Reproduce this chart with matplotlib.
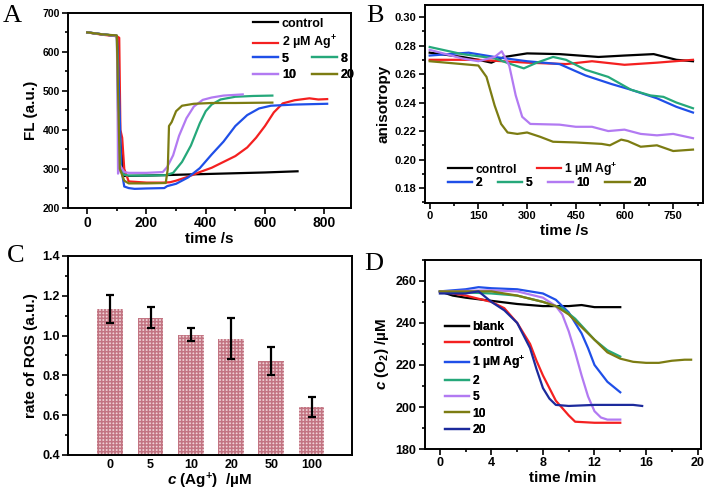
import numpy as np
import matplotlib
matplotlib.use("Agg")
import matplotlib.pyplot as plt
from matplotlib.lines import Line2D
from matplotlib.ticker import MultipleLocator

plt.rcParams['font.family'] = ['Liberation Sans', 'DejaVu Sans']
plt.rcParams['font.weight'] = 'bold'
plt.rcParams['axes.labelweight'] = 'bold'
plt.rcParams['mathtext.fontset'] = 'custom'
plt.rcParams['mathtext.rm'] = 'Liberation Sans:bold'
plt.rcParams['mathtext.bf'] = 'Liberation Sans:bold'
plt.rcParams['mathtext.it'] = 'Liberation Sans:italic:bold'
plt.rcParams['mathtext.bfit'] = 'Liberation Sans:italic:bold'
plt.rcParams['hatch.linewidth'] = 1.1

BLACK = '#000000'
RED = '#f42020'
BLUE = '#1f4fe8'
GREEN = '#25a87a'
PURPLE = '#b27af2'
OLIVE = '#7c7c12'
NAVY = '#1c2a9c'

# ---- panel A: FL vs time ----
a_labels = ['control', '2 µM Ag$^{+}$', '5', '8', '10', '20']
a_t = [
    [0, 50, 100, 104, 110, 125, 200, 300, 400, 500, 600, 710],
    [0, 50, 100, 108, 112, 118, 125, 140, 200, 260, 280, 300, 340, 380, 420, 460, 500,
     540, 570, 600, 630, 660, 700, 750, 780, 810],
    [0, 50, 100, 105, 115, 125, 140, 160, 200, 260, 270, 300, 340, 380, 420, 460, 500,
     540, 580, 620, 700, 810],
    [0, 50, 100, 104, 112, 125, 140, 200, 265, 290, 320, 350, 380, 400, 420, 450, 500, 560, 625],
    [0, 50, 100, 102, 104, 110, 125, 140, 200, 255, 270, 290, 310, 335, 360, 390, 420, 460, 525],
    [0, 50, 100, 104, 110, 125, 140, 200, 265, 272, 276, 285, 300, 320, 360, 420, 500, 625],
]
a_y = [
    [650, 645, 641, 600, 380, 282, 283, 285, 287, 289, 291, 294],
    [650, 644, 640, 636, 400, 380, 300, 268, 265, 265, 266, 270, 280, 292, 303, 318, 333,
     355, 380, 410, 445, 468, 476, 481, 478, 479],
    [650, 645, 641, 560, 300, 255, 251, 249, 250, 251, 256, 262, 278, 302, 337, 370, 410,
     438, 455, 462, 465, 467],
    [650, 645, 641, 450, 300, 285, 283, 283, 284, 290, 318, 360, 417, 448, 465, 478, 485, 487, 488],
    [650, 645, 641, 500, 288, 310, 292, 290, 290, 292, 305, 335, 385, 430, 460, 477, 483, 488, 491],
    [650, 645, 642, 500, 300, 270, 263, 263, 264, 300, 410, 420, 448, 462, 467, 469, 469, 470],
]
a_colors = [BLACK, RED, BLUE, GREEN, PURPLE, OLIVE]

# ---- panel B: anisotropy vs time ----
b_labels = ['control', '1 µM Ag$^{+}$', '2', '5', '10', '20']
b_t = [
    [0, 100, 150, 190, 230, 300, 400, 520, 600, 690, 760, 811],
    [0, 150, 300, 420, 500, 600, 700, 811],
    [0, 120, 200, 300, 400, 480, 560, 620, 700, 760, 811],
    [0, 100, 200, 250, 290, 330, 380, 420, 480, 550, 620, 680, 720, 760, 811],
    [0, 100, 150, 200, 222, 245, 265, 285, 310, 400, 450, 500, 550, 600, 650, 700, 750, 811],
    [0, 100, 150, 175, 200, 220, 240, 270, 300, 340, 380, 450, 530, 555, 590, 610, 650,
     700, 750, 811],
]
b_y = [
    [0.275, 0.272, 0.270, 0.268, 0.272, 0.2745, 0.274, 0.272, 0.273, 0.274, 0.270, 0.269],
    [0.270, 0.270, 0.268, 0.267, 0.269, 0.2665, 0.268, 0.270],
    [0.273, 0.275, 0.272, 0.269, 0.267, 0.259, 0.253, 0.249, 0.243, 0.237, 0.233],
    [0.279, 0.274, 0.271, 0.267, 0.264, 0.268, 0.272, 0.270, 0.263, 0.258, 0.249, 0.245,
     0.244, 0.240, 0.236],
    [0.277, 0.271, 0.269, 0.272, 0.276, 0.266, 0.245, 0.230, 0.225, 0.2245, 0.223, 0.223,
     0.220, 0.221, 0.218, 0.217, 0.218, 0.215],
    [0.269, 0.267, 0.266, 0.258, 0.238, 0.225, 0.219, 0.218, 0.219, 0.216, 0.2125, 0.212,
     0.211, 0.210, 0.214, 0.213, 0.209, 0.210, 0.206, 0.207],
]
b_colors = [BLACK, RED, BLUE, GREEN, PURPLE, OLIVE]

# ---- panel C: rate of ROS ----
c_conc = ['0', '5', '10', '20', '50', '100']
c_rate = [1.135, 1.09, 1.005, 0.985, 0.87, 0.64]
c_err = [0.07, 0.052, 0.035, 0.105, 0.07, 0.05]

# ---- panel D: c(O2) vs time ----
d_labels = ['blank', 'control', '1 µM Ag$^{+}$', '2', '5', '10', '20']
d_t = [
    [0, 1, 2, 4, 6, 8, 10, 11, 12, 14],
    [0, 2, 4, 5, 6, 7, 7.5, 8, 9, 10, 10.5, 12, 14],
    [0, 2, 3, 4, 6, 8, 9, 10, 11, 11.5, 12, 13, 14],
    [0, 4, 6, 8, 9.5, 10.5, 12, 13, 14],
    [0, 4, 6, 8, 9, 9.5, 10, 10.5, 11, 11.5, 12, 12.5, 13, 14],
    [0, 4, 6, 8, 9, 10, 11, 12, 13, 14, 15, 16, 17, 18, 19, 19.5],
    [0, 2, 3, 4, 5, 6, 7, 7.5, 8, 8.5, 9, 10, 12, 14, 15, 15.7],
]
d_y = [
    [255, 253, 252, 250.5, 249, 248, 248, 248.5, 247.5, 247.5],
    [255, 253, 250, 247, 240, 230, 222, 215, 203, 196, 193, 192.5, 192.5],
    [255, 256, 257, 256.5, 256, 254, 251, 245, 235, 228, 220, 212, 207],
    [255, 254, 253, 250, 247, 242, 232, 227, 224],
    [255, 255.5, 255, 252, 248, 244, 236, 226, 215, 205, 198, 195, 194, 194],
    [255, 255, 253, 250, 248, 244, 238, 232, 226, 223, 221.5, 221, 221, 222, 222.5, 222.5],
    [254, 254, 255, 250, 246, 240, 228, 218, 209, 204, 201, 200.5, 201, 201, 201, 200.5],
]
d_colors = [BLACK, RED, BLUE, GREEN, PURPLE, OLIVE, NAVY]

fig = plt.figure(figsize=(7.08, 4.94), dpi=100)
axA = fig.add_axes([0.096, 0.579, 0.400, 0.395])
axB = fig.add_axes([0.600, 0.589, 0.393, 0.401])
axC = fig.add_axes([0.096, 0.079, 0.401, 0.403])
axD = fig.add_axes([0.600, 0.091, 0.390, 0.383])


def style(ax, xticks, yticks, xsize, ysize, yfmt='%g'):
    for s in ax.spines.values():
        s.set_linewidth(1.4)
    ax.set_xticks(xticks, [('%g' % v) for v in xticks], fontweight='bold', fontsize=xsize)
    ax.set_yticks(yticks, [(yfmt % v) for v in yticks], fontweight='bold', fontsize=ysize)
    ax.tick_params(which='both', direction='out', width=1.2, top=False, right=False)
    ax.tick_params(which='major', length=4, pad=2)
    ax.tick_params(which='minor', length=2.5)


def legend(ax, handles, ncol, x, y, size, colsp):
    lg = ax.legend(handles=handles, ncol=ncol, loc='upper left', bbox_to_anchor=(x, y),
                   frameon=False, borderpad=0, borderaxespad=0, handlelength=2.0,
                   handletextpad=0.3, labelspacing=0.35, columnspacing=colsp,
                   prop={'size': size, 'weight': 'bold'})
    ax.add_artist(lg)


# A
for t, y, c in zip(a_t, a_y, a_colors):
    axA.plot(t, y, color=c, lw=1.6)
style(axA, np.arange(0, 801, 200), np.arange(200, 701, 100), 10, 7.5)
axA.set_xlim(-65, 891)
axA.set_ylim(200, 700)
axA.xaxis.set_minor_locator(MultipleLocator(100))
axA.yaxis.set_minor_locator(MultipleLocator(50))
axA.set_xlabel('time /s', fontsize=11, labelpad=1)
axA.set_ylabel('FL (a.u.)', fontsize=11, labelpad=3)
hA = [Line2D([], [], color=c, lw=1.6, label=l) for c, l in zip(a_colors, a_labels)]
legend(axA, hA[:2], 1, 0.654, 0.975, 9, 1.0)
legend(axA, [hA[2], hA[4], hA[3], hA[5]], 2, 0.654, 0.795, 9, 1.3)

# B
for t, y, c in zip(b_t, b_y, b_colors):
    axB.plot(t, y, color=c, lw=1.6)
style(axB, np.arange(0, 751, 150), np.arange(0.18, 0.301, 0.02), 8, 8, '%.2f')
axB.set_xlim(-15, 842)
axB.set_ylim(0.1695, 0.3085)
axB.xaxis.set_minor_locator(MultipleLocator(75))
axB.yaxis.set_minor_locator(MultipleLocator(0.01))
axB.set_xlabel('time /s', fontsize=11, labelpad=2)
axB.set_ylabel('anisotropy', fontsize=11, labelpad=3)
hB = [Line2D([], [], color=c, lw=1.6, label=l) for c, l in zip(b_colors, b_labels)]
legend(axB, hB[:2], 2, 0.083, 0.217, 8.7, 1.6)
legend(axB, hB[2:], 4, 0.083, 0.131, 8.7, 1.3)

# C
xc = np.arange(len(c_conc))
axC.bar(xc, c_rate, width=0.64, color='#f0d2d7', edgecolor='#c27482', hatch='+++++', lw=0)
axC.errorbar(xc, c_rate, yerr=c_err, fmt='none', ecolor='black', elinewidth=1.6,
             capsize=3, capthick=1.6)
style(axC, xc, np.arange(0.4, 1.41, 0.2), 9, 9, '%.1f')
axC.set_xticklabels(c_conc)
axC.set_xlim(-1.05, 6.0)
axC.set_ylim(0.4, 1.4)
axC.yaxis.set_minor_locator(MultipleLocator(0.1))
axC.tick_params(axis='x', which='both', length=0, pad=3)
axC.set_xlabel(r'$\mathbfit{c}$ (Ag$^{+}$)  /µM', fontsize=11, labelpad=0)
axC.set_ylabel('rate of ROS (a.u.)', fontsize=11, labelpad=3)

# D
for t, y, c in zip(d_t, d_y, d_colors):
    axD.plot(t, y, color=c, lw=1.6)
style(axD, np.arange(0, 21, 4), np.arange(180, 261, 20), 9, 9)
axD.set_xlim(-1.17, 20.26)
axD.set_ylim(180, 270)
axD.xaxis.set_minor_locator(MultipleLocator(2))
axD.yaxis.set_minor_locator(MultipleLocator(10))
axD.set_xlabel('time /min', fontsize=11, labelpad=1)
axD.set_ylabel(r'$\mathbfit{c}$ (O$_{2}$) /µM', fontsize=11, labelpad=3)
hD = [Line2D([], [], color=c, lw=1.6, label=l) for c, l in zip(d_colors, d_labels)]
legend(axD, hD, 1, 0.072, 0.677, 8.7, 1.0)

for lab, x, y in [('A', 0.004, 0.955), ('B', 0.517, 0.955), ('C', 0.01, 0.47), ('D', 0.514, 0.453)]:
    fig.text(x, y, lab, family='Liberation Serif', fontweight='normal', fontsize=19, va='baseline')

fig.savefig('out.png', dpi=100)
